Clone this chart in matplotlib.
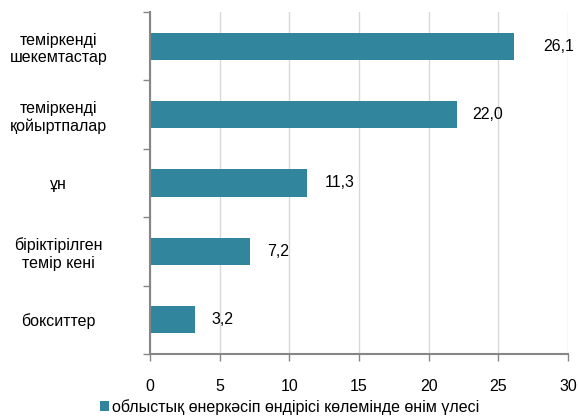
import numpy as np
import matplotlib.pyplot as plt
from matplotlib.patches import Patch

plt.rcParams['font.family'] = ['Liberation Sans', 'DejaVu Sans']

# Data
categories = ['теміркенді\nшекемтастар', 'теміркенді\nқойыртпалар', 'ұн',
              'біріктірілген\nтемір кені', 'бокситтер']
values = [26.1, 22.0, 11.3, 7.2, 3.2]
value_labels = ['26,1', '22,0', '11,3', '7,2', '3,2']
series_name = 'облыстық өнеркәсіп өндірісі көлемінде өнім үлесі'
x_ticks = [0, 5, 10, 15, 20, 25, 30]

bar_color = '#31859C'
axis_color = '#868686'
fs = 11.5

fig = plt.figure(figsize=(5.79, 4.16), dpi=100, facecolor='white')
ax = fig.add_axes([150 / 579, 1 - 354 / 416, 418 / 579, 342 / 416])

n = len(categories)
y = np.arange(n)[::-1]
ax.barh(y, values, height=0.4, color=bar_color, zorder=3)

# value labels; first one sits further from its bar in the original
offsets = [30, 16, 17, 17, 17]
for yi, v, lab, off in zip(y, values, value_labels, offsets):
    ax.annotate(lab, (v, yi), xytext=(off, 0), textcoords='offset pixels',
                va='center', ha='left', fontsize=fs, color='black')

ax.set_xlim(0, 30)
ax.set_ylim(-0.5, n - 0.5)
ax.set_xticks(x_ticks)
ax.set_xticklabels([str(t) for t in x_ticks], fontsize=fs)
ax.set_yticks(y)
ax.set_yticklabels(categories, fontsize=fs, ha='center', multialignment='center')
ax.set_yticks(np.arange(-0.5, n, 1.0), minor=True)

ax.tick_params(axis='y', which='major', length=0, pad=66)
ax.tick_params(axis='y', which='minor', length=5, width=1, color=axis_color, direction='out')
ax.tick_params(axis='x', which='major', length=5, width=1, color=axis_color,
               direction='out', pad=13)

ax.grid(axis='x', color='#D9D9D9', linewidth=1, zorder=0)
for s in ['top', 'right']:
    ax.spines[s].set_visible(False)
for s in ['left', 'bottom']:
    ax.spines[s].set_color(axis_color)
    ax.spines[s].set_linewidth(1.5)
    ax.spines[s].set_zorder(4)

handle = Patch(facecolor=bar_color, edgecolor='none')
fig.legend([handle], [series_name], loc='center', bbox_to_anchor=(0.5, 1 - 407 / 416),
           frameon=False, fontsize=fs, handlelength=0.6, handleheight=0.6,
           handletextpad=0.15, borderpad=0)

fig.savefig('out.png', dpi=100, facecolor='white')
